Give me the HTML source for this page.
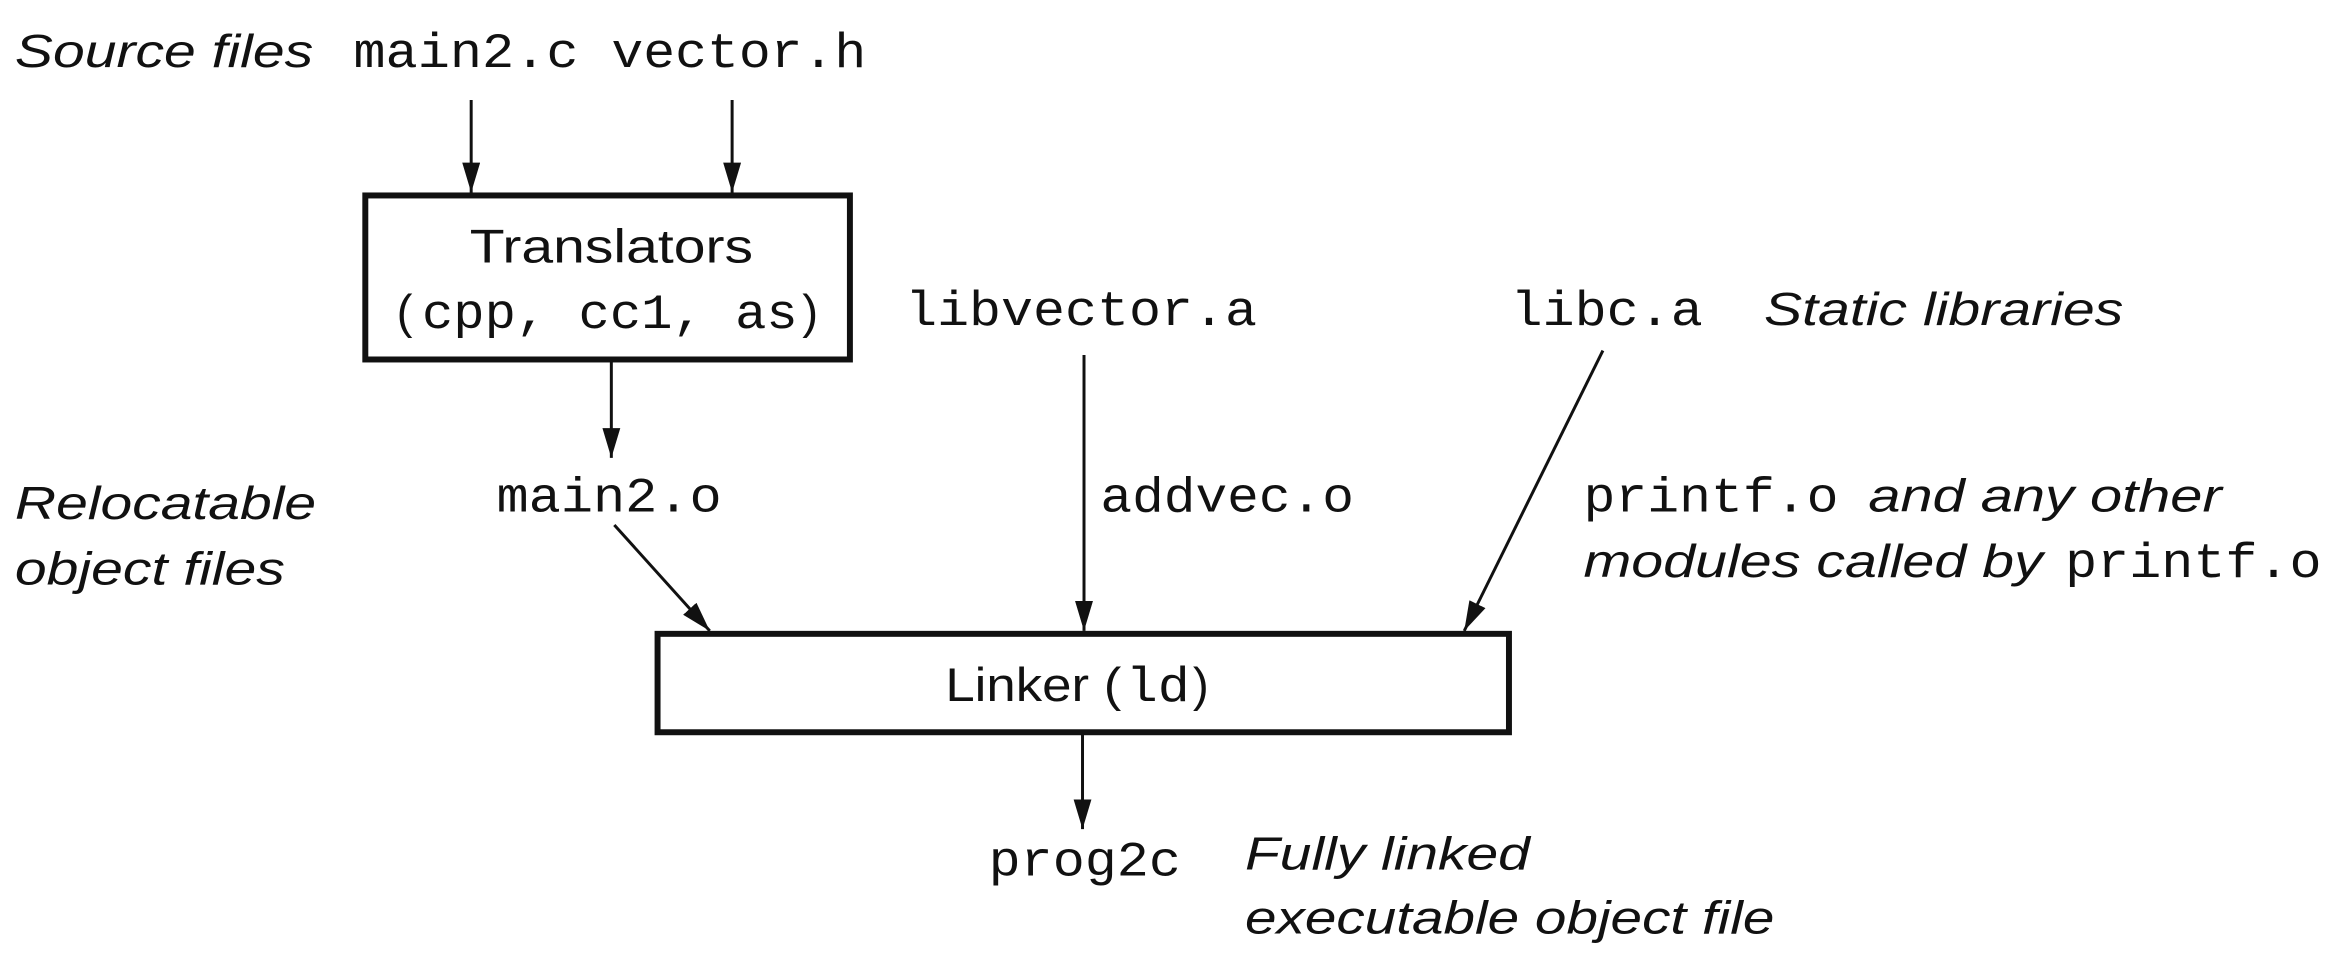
<!DOCTYPE html>
<html><head><meta charset="utf-8"><style>html,body{margin:0;padding:0;background:#fff}svg{display:block}</style></head>
<body>
<svg width="2338" height="962" viewBox="0 0 1568 645" xmlns="http://www.w3.org/2000/svg">
<defs><marker id="a" markerWidth="20" markerHeight="12" refX="20" refY="6" orient="auto" markerUnits="userSpaceOnUse" viewBox="0 0 20 12"><path d="M0,0 L20,6 L0,12 z" fill="#111"/></marker></defs>
<g fill="#111">
<g font-family="Liberation Sans, sans-serif" font-style="italic" font-size="31">
<text x="10" y="45" textLength="200" lengthAdjust="spacingAndGlyphs">Source files</text>
<text x="10" y="348" textLength="202" lengthAdjust="spacingAndGlyphs">Relocatable</text>
<text x="10" y="392" textLength="181" lengthAdjust="spacingAndGlyphs">object files</text>
<text x="1183" y="218" textLength="241" lengthAdjust="spacingAndGlyphs">Static libraries</text>
<text x="1253" y="343" textLength="237" lengthAdjust="spacingAndGlyphs">and any other</text>
<text x="1062" y="387" textLength="308" lengthAdjust="spacingAndGlyphs">modules called by</text>
<text x="835" y="583" textLength="191" lengthAdjust="spacingAndGlyphs">Fully linked</text>
<text x="835" y="626" textLength="355" lengthAdjust="spacingAndGlyphs">executable object file</text>
</g>
<g font-family="Liberation Mono, monospace" font-size="33">
<text x="237" y="45" textLength="151" lengthAdjust="spacingAndGlyphs">main2.c</text>
<text x="410" y="45" textLength="171" lengthAdjust="spacingAndGlyphs">vector.h</text>
<text x="607" y="218" textLength="236" lengthAdjust="spacingAndGlyphs">libvector.a</text>
<text x="1013" y="218" textLength="129" lengthAdjust="spacingAndGlyphs">libc.a</text>
<text x="333" y="343" textLength="151" lengthAdjust="spacingAndGlyphs">main2.o</text>
<text x="738" y="343" textLength="170" lengthAdjust="spacingAndGlyphs">addvec.o</text>
<text x="1062" y="343" textLength="171" lengthAdjust="spacingAndGlyphs">printf.o</text>
<text x="1385" y="387" textLength="172" lengthAdjust="spacingAndGlyphs">printf.o</text>
<text x="663" y="587" textLength="129" lengthAdjust="spacingAndGlyphs">prog2c</text>
<text x="283" y="220" textLength="252" lengthAdjust="spacingAndGlyphs">cpp, cc1, as</text>
<text x="755" y="470" textLength="43" lengthAdjust="spacingAndGlyphs">ld</text>
</g>
<g font-family="Liberation Sans, sans-serif" font-size="32">
<text x="315" y="176" textLength="190" lengthAdjust="spacingAndGlyphs">Translators</text>
<text x="266" y="220">(</text>
<text x="538" y="220">)</text>
<text x="634" y="470" textLength="118" lengthAdjust="spacingAndGlyphs">Linker (</text>
<text x="800" y="470">)</text>
</g>
</g>
<g fill="none" stroke="#111">
<rect x="245" y="131" width="325" height="110" stroke-width="4"/>
<rect x="441" y="425" width="571" height="66" stroke-width="4"/>
<g stroke-width="2" marker-end="url(#a)">
<line x1="316" y1="67" x2="316" y2="129"/>
<line x1="491" y1="67" x2="491" y2="129"/>
<line x1="410" y1="242" x2="410" y2="307"/>
<line x1="727" y1="238" x2="727" y2="423"/>
<line x1="1075" y1="235" x2="982" y2="423"/>
<line x1="412" y1="352" x2="476" y2="423"/>
<line x1="726" y1="492" x2="726" y2="556"/>
</g>
</g>
</svg>
</body></html>
